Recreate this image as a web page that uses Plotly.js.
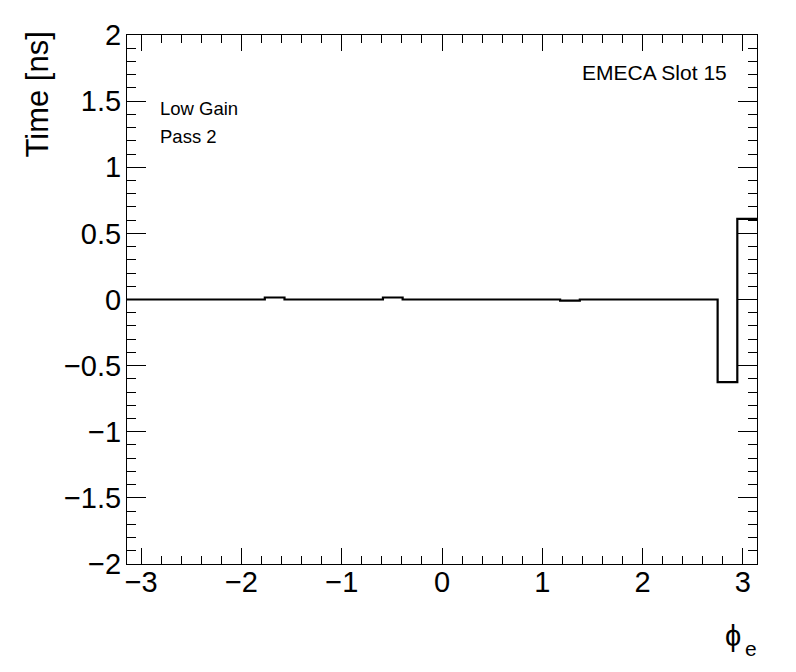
<!DOCTYPE html>
<html>
<head>
<meta charset="utf-8">
<script src="https://cdn.plot.ly/plotly-3.0.1.min.js"></script>
<style>html,body{margin:0;padding:0;background:#fff;}#plot{width:796px;height:672px;}</style>
</head>
<body>
<div id="plot"></div>
<script>
// Histogram: 32 bins over phi in [-pi, pi]
const nBins = 32;
const phiMin = -Math.PI;
const phiMax = Math.PI;
const timeValues = [
  0.0, 0.0, 0.0, 0.0, 0.0, 0.0, 0.0, 0.015,
  0.0, 0.0, 0.0, 0.0, 0.0, 0.015, 0.0, 0.0,
  0.0, 0.0, 0.0, 0.0, 0.0, 0.0, -0.008, 0.0,
  0.0, 0.0, 0.0, 0.0, 0.0, 0.0, -0.625, 0.61
];
const labelTopRight = "EMECA Slot 15";
const labelLines = ["Low Gain", "Pass 2"];
const xTitleMain = "ϕ";
const xTitleSub = "e";
const yTitle = "Time [ns]";

const binWidth = (phiMax - phiMin) / nBins;
const edges = [];
for (let i = 0; i <= nBins; i++) edges.push(phiMin + i * binWidth);
const stepY = timeValues.concat([timeValues[timeValues.length - 1]]);

const font = "Liberation Sans, Arial, Helvetica, sans-serif";

const trace = {
  x: edges, y: stepY, type: "scatter", mode: "lines",
  line: {shape: "hv", color: "#000", width: 2.2},
  hoverinfo: "skip", showlegend: false
};

const layout = {
  width: 796, height: 672,
  margin: {l: 127, r: 39, t: 35, b: 108},
  paper_bgcolor: "#fff", plot_bgcolor: "#fff",
  font: {family: font, color: "#000"},
  xaxis: {
    range: [phiMin, phiMax], tick0: 0, dtick: 1,
    ticks: "inside", ticklen: 16, tickwidth: 1, tickcolor: "#000",
    minor: {dtick: 0.2, tick0: 0, ticks: "inside", ticklen: 8, tickwidth: 1, tickcolor: "#000", showgrid: false},
    showline: true, linecolor: "#000", linewidth: 1, mirror: "ticks",
    showgrid: false, zeroline: false,
    tickfont: {family: font, size: 29, color: "#000"},
    ticklabelstandoff: -8
  },
  yaxis: {
    range: [-2, 2], tick0: 0, dtick: 0.5,
    ticks: "inside", ticklen: 19, tickwidth: 1, tickcolor: "#000",
    minor: {dtick: 0.1, tick0: 0, ticks: "inside", ticklen: 9, tickwidth: 1, tickcolor: "#000", showgrid: false},
    showline: true, linecolor: "#000", linewidth: 1, mirror: "ticks",
    showgrid: false, zeroline: false,
    tickfont: {family: font, size: 29, color: "#000"},
    ticklabelstandoff: -1
  },
  annotations: [
    {text: labelTopRight, xref: "paper", yref: "paper", x: 0.955, y: 0.93, xanchor: "right", yanchor: "middle",
     showarrow: false, font: {family: font, size: 21, color: "#000"}},
    {text: labelLines[0], xref: "paper", yref: "paper", x: 0.049, y: 0.862, xanchor: "left", yanchor: "middle",
     showarrow: false, font: {family: font, size: 18.5, color: "#000"}},
    {text: labelLines[1], xref: "paper", yref: "paper", x: 0.049, y: 0.809, xanchor: "left", yanchor: "middle",
     showarrow: false, font: {family: font, size: 18.5, color: "#000"}},
    {text: yTitle, xref: "paper", yref: "paper", x: 0, xshift: -110, y: 1, yshift: 5, xanchor: "left", yanchor: "top",
     textangle: -90, showarrow: false, font: {family: font, size: 31, color: "#000"}},
    {text: xTitleMain, xref: "paper", yref: "paper", x: 1, xshift: -14, y: 0, yshift: -72, xanchor: "right", yanchor: "middle",
     showarrow: false, font: {family: font, size: 29, color: "#000"}},
    {text: xTitleSub, xref: "paper", yref: "paper", x: 1, xshift: -14, y: 0, yshift: -84, xanchor: "left", yanchor: "middle",
     showarrow: false, font: {family: font, size: 21, color: "#000"}}
  ]
};

Plotly.newPlot("plot", [trace], layout, {staticPlot: true, displayModeBar: false});
</script>
</body>
</html>
